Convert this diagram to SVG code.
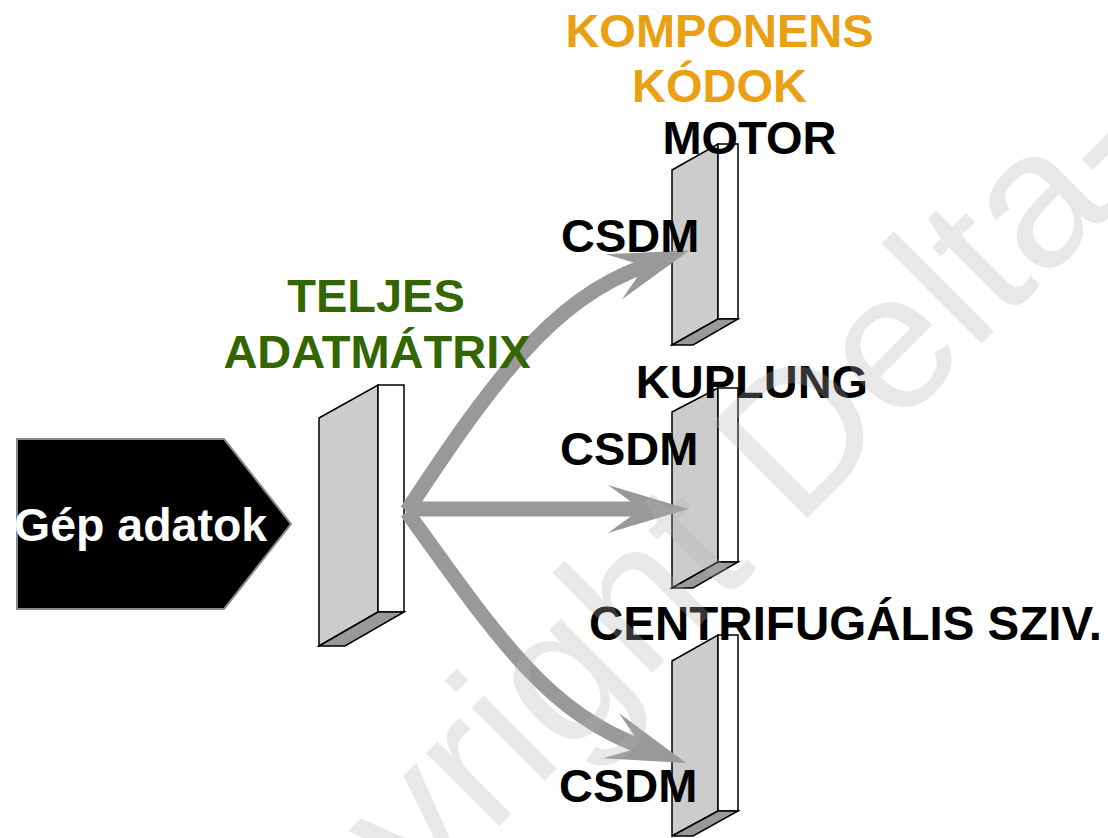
<svg xmlns="http://www.w3.org/2000/svg" width="1108" height="838" viewBox="0 0 1108 838">
<style>
.front{fill:#cccccc;stroke:#000;stroke-width:1.5;stroke-linejoin:miter}
.side{fill:#ffffff;stroke:#000;stroke-width:1.5}
.bot{fill:#999999;stroke:#000;stroke-width:1.5}
.lbl{font-family:"Liberation Sans",Arial,sans-serif;font-weight:bold;font-size:47px}
.blk{fill:#000}
.org{fill:#E9A012}
.grn{fill:#336600}
.arr{fill:none;stroke:#999999;stroke-width:15;marker-end:url(#ah)}
</style>
<defs>
<marker id="ah" markerUnits="userSpaceOnUse" markerWidth="100" markerHeight="60" viewBox="-40 -30 100 60" refX="0" refY="0" orient="auto" overflow="visible">
<path d="M47,0 L-33,-24 L0,0 L-33,24 Z" fill="#999999"/>
</marker>
</defs>
<rect width="1108" height="838" fill="#ffffff"/>

<g id="gep-adatok">
<polygon points="17,439 224,439 291,524 224,609 17,609" fill="#000" stroke="#888" stroke-width="2"/>
<text x="14" y="541" class="lbl" style="font-size:46.5px" fill="#fff">Gép adatok</text>
</g>

<g id="teljes-adatmatrix">
<polygon class="front" points="319,418 378,385 378,612 319,646"/>
<polygon class="side" points="378,385 404,385 404,612 378,612"/>
<polygon class="bot" points="319,646 378,612 404,612 345,646"/>
</g>

<g id="panel-motor">
<polygon class="front" points="672,170 718,144 718,319 672,345"/>
<polygon class="side" points="718,144 738,144 738,319 718,319"/>
<polygon class="bot" points="672,345 718,319 738,319 693,345"/>
</g>

<g id="panel-kuplung">
<polygon class="front" points="672,412 718,388 718,562 672,588"/>
<polygon class="side" points="718,388 738,388 738,562 718,562"/>
<polygon class="bot" points="672,588 718,562 738,562 693,588"/>
</g>

<g id="panel-centrifugalis">
<polygon class="front" points="672,661 718,635 718,811 672,836"/>
<polygon class="side" points="718,635 738,635 738,811 718,811"/>
<polygon class="bot" points="672,836 718,811 738,811 693,836"/>
</g>

<g id="connectors">
<path class="arr" d="M407,511 C490,385 551,299 645,266"/>
<path class="arr" d="M407,509 L641,509"/>
<path class="arr" d="M407,512 C496,636 548,713 642,747"/>
<polygon points="405,511 416,499 416,524" fill="#999999"/>
</g>

<g id="labels">
<text class="lbl org" x="719.5" y="47" text-anchor="middle">KOMPONENS</text>
<text class="lbl org" x="719.5" y="102" text-anchor="middle">KÓDOK</text>
<text class="lbl grn" x="376" y="312" text-anchor="middle">TELJES</text>
<text class="lbl grn" x="377" y="368" text-anchor="middle">ADATMÁTRIX</text>
<text class="lbl blk" x="749.5" y="154" text-anchor="middle">MOTOR</text>
<text class="lbl blk" x="561" y="252">CSDM</text>
<text class="lbl blk" x="752" y="398" text-anchor="middle">KUPLUNG</text>
<text class="lbl blk" x="560" y="465">CSDM</text>
<text class="lbl blk" x="845.5" y="640" text-anchor="middle" style="font-size:47.5px">CENTRIFUGÁLIS SZIV.</text>
<text class="lbl blk" x="559" y="802">CSDM</text>
</g>

<g id="watermark">
<text x="0" y="0" transform="translate(167.5,1157.5) rotate(-45)" font-family="Liberation Sans, Arial, sans-serif" font-size="195" fill="#b2b2b2" opacity="0.29">Copyright Delta-</text>
</g>
</svg>
